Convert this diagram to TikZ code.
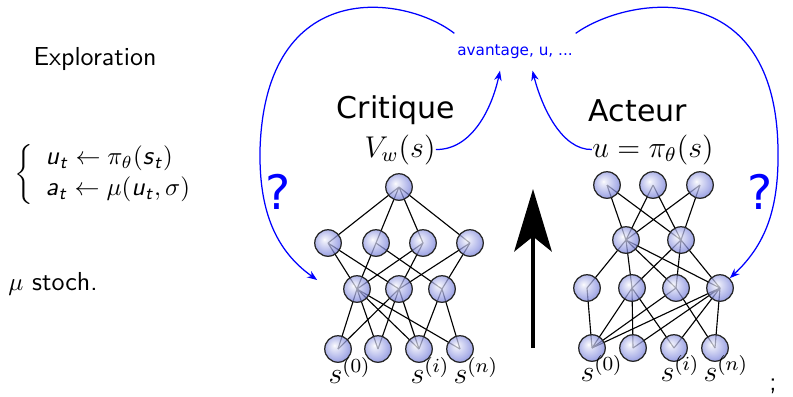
\documentclass[tikz,border=0pt]{standalone}
\usepackage{amsmath}
\usepackage{fontspec}
\newfontfamily\dejavu{DejaVu Sans}
\definecolor{nnblue}{RGB}{105,115,215}
\usetikzlibrary{arrows.meta,positioning,backgrounds}
\pgfdeclareradialshading{neuronball}{\pgfpoint{-7bp}{7bp}}{color(0bp)=(white); color(3bp)=(nnblue!15!white); color(24bp)=(nnblue!80); color(31bp)=(nnblue!85!black); color(50bp)=(nnblue!85!black)}
\newcommand{\sfv}[1]{\textsf{\textsl{#1}}}

\begin{document}
\begin{tikzpicture}[x=0.4pt, y=-0.4pt,
  neuron/.style={circle, draw=black!85, line width=0.5pt, minimum size=10.6pt, inner sep=0pt, shading=neuronball, fill opacity=0.72},
  link/.style={draw=black, line width=0.45pt},
  mathlbl/.style={font=\fontsize{11.5}{13}\selectfont, inner sep=0pt},
  netname/.style={font=\dejavu\fontsize{12}{14}\selectfont, inner sep=0pt},
  feedback/.style={-{Stealth[length=4pt,width=3pt]}, blue, line width=0.5pt},
  question/.style={font=\dejavu\fontsize{19}{22}\selectfont, text=blue}]
  \useasboundingbox (0,0) rectangle (793,396);

  % Left column: exploration
  \node[font=\sffamily\fontsize{10.4}{12.5}\selectfont] (explo) at (95,59) {Exploration};
  \node[font=\sffamily\fontsize{10.4}{12.5}\selectfont, anchor=west, inner sep=0pt] (policy) at (14,174) {$\left\{\begin{array}{l} \sfv{u}_{\sfv{t}} \leftarrow \pi_\theta(\sfv{s}_{\sfv{t}}) \\ \sfv{a}_{\sfv{t}} \leftarrow \mu(\sfv{u}_{\sfv{t}}, \sigma) \end{array}\right.$};
  \node[font=\sffamily\fontsize{10.4}{12.5}\selectfont, anchor=west, inner sep=0pt] (stoch) at (8,284) {$\mu$ stoch.};

  % Critic network
  \node[neuron] (c1) at (399,187) {};
  \node[neuron] (c21) at (328,243) {};
  \node[neuron] (c22) at (376,243) {};
  \node[neuron] (c23) at (423,243) {};
  \node[neuron] (c24) at (470,243) {};
  \node[neuron] (c31) at (357,289) {};
  \node[neuron] (c32) at (399,289) {};
  \node[neuron] (c33) at (442,289) {};
  \node[neuron] (c41) at (338,349) {};
  \node[neuron] (c42) at (378,349) {};
  \node[neuron] (c43) at (419,349) {};
  \node[neuron] (c44) at (460,349) {};

  % Actor network
  \node[neuron] (a11) at (607,185) {};
  \node[neuron] (a12) at (653,185) {};
  \node[neuron] (a13) at (700,185) {};
  \node[neuron] (a21) at (626,240) {};
  \node[neuron] (a22) at (681,240) {};
  \node[neuron] (a31) at (587,288) {};
  \node[neuron] (a32) at (632,288) {};
  \node[neuron] (a33) at (676,288) {};
  \node[neuron] (a34) at (720,288) {};
  \node[neuron] (a41) at (592,348) {};
  \node[neuron] (a42) at (633,348) {};
  \node[neuron] (a43) at (674,348) {};
  \node[neuron] (a44) at (715,348) {};

  % Links (behind the neurons)
  \begin{scope}[on background layer]
    \fill[white] (0,0) rectangle (793,396);
    \draw[link] (c1.center) -- (c21.center) (c1.center) -- (c22.center) (c1.center) -- (c23.center) (c1.center) -- (c24.center);
    \draw[link] (c21.center) -- (c31.center) (c21.center) -- (c32.center) (c22.center) -- (c31.center) (c22.center) -- (c33.center);
    \draw[link] (c23.center) -- (c31.center) (c23.center) -- (c32.center) (c24.center) -- (c32.center) (c24.center) -- (c33.center);
    \draw[link] (c31.center) -- (c41.center) (c31.center) -- (c42.center) (c31.center) -- (c43.center) (c31.center) -- (c44.center);
    \draw[link] (c32.center) -- (c41.center) (c32.center) -- (c42.center) (c32.center) -- (c43.center) (c33.center) -- (c43.center) (c33.center) -- (c44.center);
    \draw[link] (a11.center) -- (a21.center) (a11.center) -- (a22.center) (a12.center) -- (a21.center) (a12.center) -- (a22.center) (a13.center) -- (a21.center) (a13.center) -- (a22.center);
    \draw[link] (a21.center) -- (a31.center) (a21.center) -- (a32.center) (a21.center) -- (a33.center) (a21.center) -- (a34.center);
    \draw[link] (a22.center) -- (a32.center) (a22.center) -- (a33.center) (a22.center) -- (a34.center);
    \draw[link] (a31.center) -- (a41.center) (a32.center) -- (a41.center) (a32.center) -- (a42.center) (a32.center) -- (a43.center) (a33.center) -- (a41.center) (a33.center) -- (a44.center);
    \draw[link] (a34.center) -- (a41.center) (a34.center) -- (a42.center) (a34.center) -- (a43.center) (a34.center) -- (a44.center);
  \end{scope}

  % Inputs
  \node[mathlbl, anchor=base west] (cs0) at ([shift={(-10,34)}]c41) {$s^{(0)}$};
  \node[mathlbl, anchor=base west] (csi) at ([shift={(-9,34)}]c43) {$s^{(i)}$};
  \node[mathlbl, anchor=base west] (csn) at ([shift={(-7,34)}]c44) {$s^{(n)}$};
  \node[mathlbl, anchor=base west] (as0) at ([shift={(-12,33)}]a41) {$s^{(0)}$};
  \node[mathlbl, anchor=base west] (asi) at ([shift={(-14,33)}]a43) {$s^{(i)}$};
  \node[mathlbl, anchor=base west] (asn) at ([shift={(-12,33)}]a44) {$s^{(n)}$};

  % Names and outputs
  \node[netname, anchor=base] (critic) at (396,118) {Critique};
  \node[netname, anchor=base] (actor) at (638,121) {Acteur};
  \node[mathlbl, anchor=base] (vw) at (400,157) {$V_w(s)$};
  \node[mathlbl, anchor=base] (pi) at (653,157) {$u = \pi_\theta(s)$};
  \node[font=\dejavu\fontsize{6.1}{7}\selectfont, text=blue, inner xsep=1pt, inner ysep=4.5pt] (adv) at (515,52) {avantage, u, ...};

  % Feedback arrows
  \draw[feedback] (vw.east) .. controls (472,150) and (492,108) .. ([xshift=-6pt]adv.south);
  \draw[feedback] (pi.west) .. controls (562,150) and (542,108) .. ([xshift=7pt]adv.south);
  \draw[feedback] (adv.north west) .. controls (405,-5) and (265,-25) .. (260,150) .. controls (259,210) and (275,250) .. ([shift={(-26,-9)}]c31.west);
  \draw[feedback] (adv.north east) .. controls (630,-5) and (776,-25) .. (778,150) .. controls (779,210) and (765,245) .. (a34.north east);
  \node[question] (qleft) at (278,192) {?};
  \node[question] (qright) at (760,192) {?};

  % Big upward arrow
  \coordinate (upbot) at (533,348);
  \coordinate (uptop) at (533,189);
  \draw[line width=1.6pt, -{Stealth[length=25pt,width=15pt,inset=6pt]}] (upbot) -- (uptop);

  \node[font=\sffamily\fontsize{10.4}{12.5}\selectfont] (semi) at (773,386) {;};
\end{tikzpicture}
\end{document}
